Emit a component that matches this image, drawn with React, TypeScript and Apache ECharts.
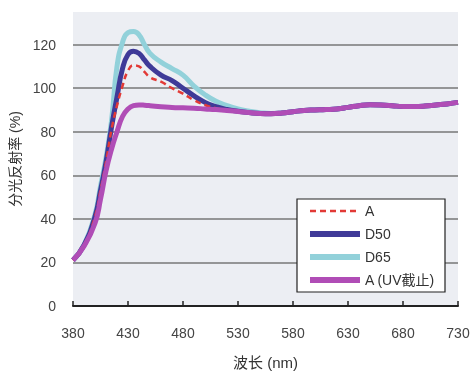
import React, { useEffect, useRef } from "react";
import * as echarts from "echarts";

const wavelengths = [380, 390, 400, 405, 410, 415, 420, 425, 430, 435, 440, 445, 450, 460, 470, 480, 490, 500, 510, 520, 530, 540, 550, 560, 570, 580, 590, 600, 610, 620, 630, 640, 650, 660, 670, 680, 690, 700, 710, 720, 730];

const seriesA = [21, 28, 41, 53, 66, 81, 92, 101, 108, 110.5, 110, 107.5, 105, 103, 100, 97.5, 94.5, 92.3, 90.8, 89.9, 89.3, 88.8, 88.4, 88.3, 88.6, 89.2, 89.8, 90, 90.2, 90.5, 91.2, 92, 92.4, 92.3, 92, 91.6, 91.6, 91.8, 92.3, 92.8, 93.5];
const seriesD50 = [21, 28, 41, 53, 66, 82, 96, 109, 115.5, 117, 116, 113, 110, 106, 103.5, 100, 96.5, 93.5, 91.5, 90.2, 89.4, 88.8, 88.4, 88.3, 88.6, 89.2, 89.8, 90, 90.2, 90.5, 91.2, 92, 92.4, 92.3, 92, 91.6, 91.6, 91.8, 92.3, 92.8, 93.5];
const seriesD65 = [21, 28, 42, 55, 68, 85, 110, 121, 125.5, 126, 124.5, 120, 116, 112, 109, 106, 101, 97, 94, 92, 90.5, 89.5, 88.8, 88.4, 88.6, 89.2, 89.8, 90, 90.2, 90.5, 91.2, 92, 92.4, 92.3, 92, 91.6, 91.6, 91.8, 92.3, 92.8, 93.5];
const seriesUV = [21, 27.5, 38, 49, 62, 72, 80, 87, 90.5, 92, 92.3, 92.2, 92, 91.5, 91.2, 91, 90.8, 90.5, 90.2, 89.8, 89.3, 88.8, 88.4, 88.3, 88.6, 89.2, 89.8, 90, 90.2, 90.5, 91.2, 92, 92.4, 92.3, 92, 91.6, 91.6, 91.8, 92.3, 92.8, 93.5];

const xTicks = [380, 430, 480, 530, 580, 630, 680, 730];
const yTicks = [0, 20, 40, 60, 80, 100, 120];
const legendNames = ["A", "D50", "D65", "A (UV截止)"];

const FONT = "'Liberation Sans', Arial, 'Noto Sans CJK SC', sans-serif";

const pair = (vals: number[]) => wavelengths.map((w, i) => [w, vals[i]]);

export default function App() {
  const ref = useRef<HTMLDivElement>(null);
  useEffect(() => {
    if (!ref.current) return;
    const chart = echarts.init(ref.current, null, { renderer: "svg" });
    chart.setOption({
      animation: false,
      textStyle: { fontFamily: FONT },
      grid: {
        left: 73,
        right: 12,
        top: 12,
        bottom: 66,
        show: true,
        backgroundColor: "#eceef3",
        borderWidth: 0,
        containLabel: false,
        outerBoundsMode: "none",
      },
      legend: {
        data: [
          { name: legendNames[0], lineStyle: { width: 2.5 } },
          { name: legendNames[1], lineStyle: { width: 6 } },
          { name: legendNames[2], lineStyle: { width: 6 } },
          { name: legendNames[3], lineStyle: { width: 6 } },
        ],
        orient: "vertical",
        left: 297,
        top: 199,
        backgroundColor: "#ffffff",
        borderColor: "#222",
        borderWidth: 1.2,
        borderRadius: 0,
        padding: [5, 10, 5, 10],
        itemWidth: 50,
        itemHeight: 14,
        itemGap: 9,
        itemStyle: { color: "rgba(0,0,0,0)", borderWidth: 0, borderColor: "rgba(0,0,0,0)" },
        textStyle: { fontSize: 14, color: "#333", fontFamily: FONT },
      },
      xAxis: {
        type: "value",
        min: 380,
        max: 730,
        name: "波长 (nm)",
        nameLocation: "middle",
        nameGap: 49,
        nameTextStyle: { fontSize: 15, color: "#333", fontFamily: FONT },
        axisLine: { show: true, lineStyle: { color: "#222", width: 2 } },
        axisTick: { show: true, inside: true, length: 5, customValues: xTicks, lineStyle: { color: "#222", width: 1.5 } },
        axisLabel: { customValues: xTicks, fontSize: 14, color: "#444", margin: 20 },
        splitLine: { show: false },
      },
      yAxis: {
        type: "value",
        min: 0,
        max: 135,
        interval: 20,
        name: "分光反射率 (%)",
        nameLocation: "middle",
        nameGap: 48,
        nameRotate: 90,
        nameTextStyle: { fontSize: 14, color: "#333", fontFamily: FONT },
        axisLine: { show: false },
        axisTick: { show: false },
        axisLabel: { customValues: yTicks, fontSize: 14, color: "#444", margin: 17 },
        splitLine: {
          show: true,
          lineStyle: { color: ["#777", "#777", "#777", "#777", "#777", "#777", "#777", "rgba(0,0,0,0)"], width: 1.5 },
        },
      },
      series: [
        {
          name: "D65",
          type: "line",
          smooth: true,
          symbol: "none",
          data: pair(seriesD65),
          lineStyle: { color: "#92d1da", width: 5 },
          itemStyle: { color: "#92d1da" },
          z: 2,
        },
        {
          name: "D50",
          type: "line",
          smooth: true,
          symbol: "none",
          data: pair(seriesD50),
          lineStyle: { color: "#3f3a98", width: 5 },
          itemStyle: { color: "#3f3a98" },
          z: 3,
        },
        {
          name: "A",
          type: "line",
          smooth: true,
          symbol: "none",
          data: pair(seriesA),
          lineStyle: { color: "#e23a36", width: 2.5, type: [6, 4] },
          itemStyle: { color: "#e23a36" },
          z: 4,
        },
        {
          name: "A (UV截止)",
          type: "line",
          smooth: true,
          symbol: "none",
          data: pair(seriesUV),
          lineStyle: { color: "#b04db6", width: 5 },
          itemStyle: { color: "#b04db6" },
          z: 5,
        },
      ],
    });
    return () => chart.dispose();
  }, []);
  return <div ref={ref} style={{ position: "fixed", left: 0, top: 0, width: 470, height: 372 }} />;
}
